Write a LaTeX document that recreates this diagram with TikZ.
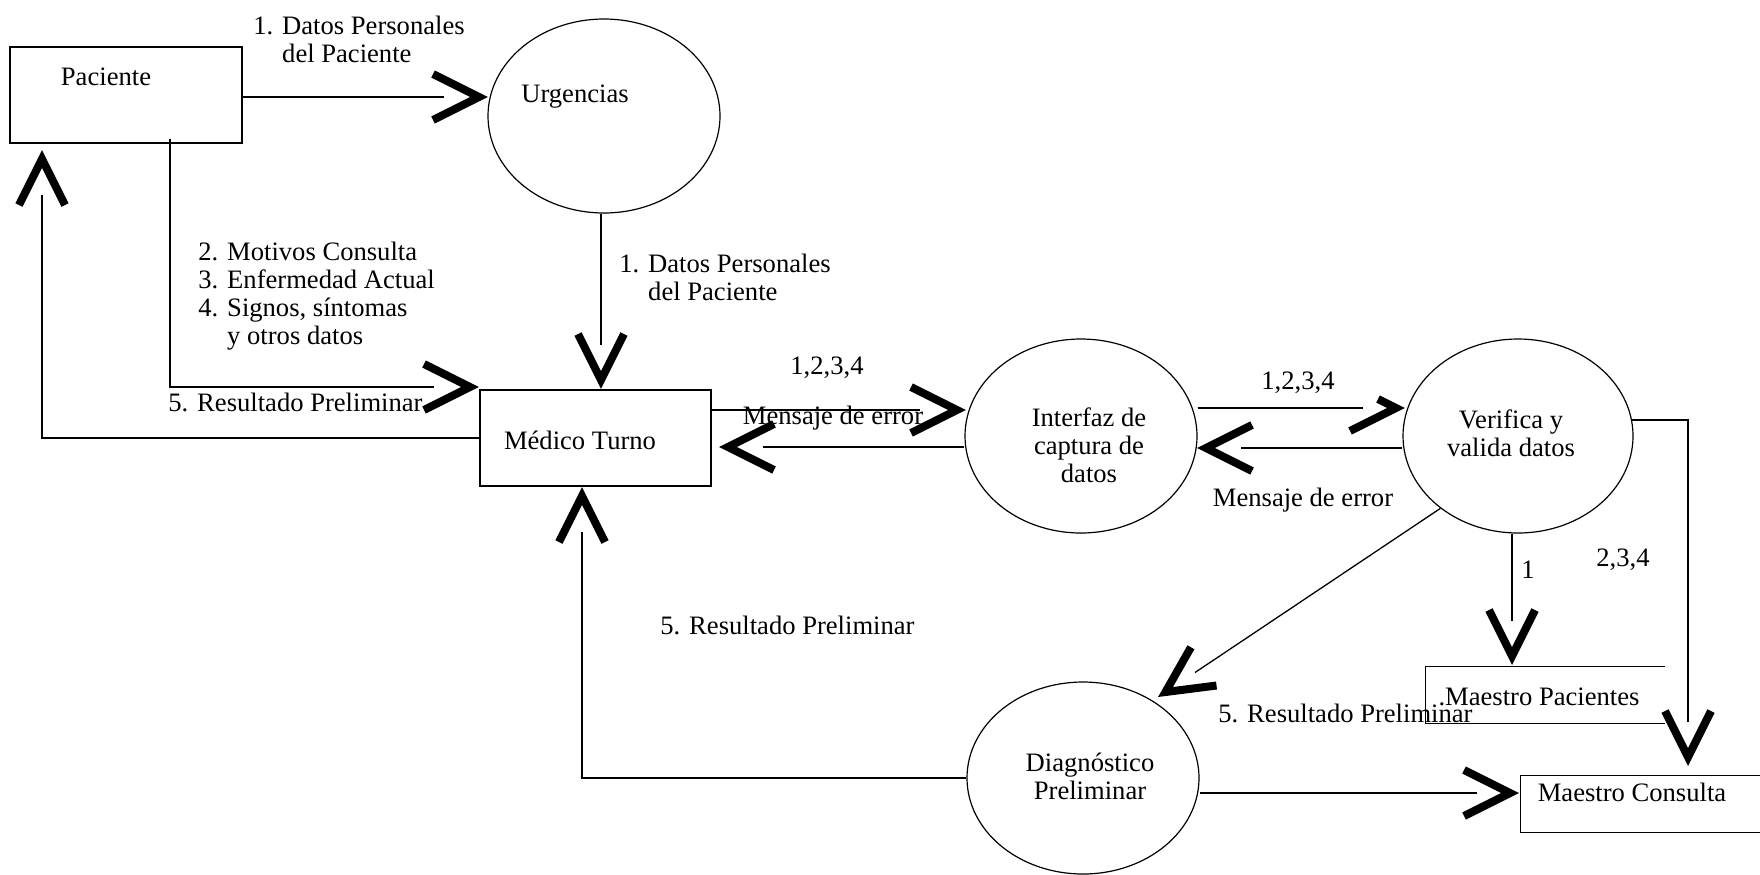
\documentclass[tikz,border=0pt]{standalone}
\usepackage{fontspec}
\setmainfont{Liberation Serif}
\usetikzlibrary{shapes.geometric}
\begin{document}
\begin{tikzpicture}[x=0.5pt,y=-0.5pt,
  every node/.style={font=\fontsize{13.3}{14}\selectfont, inner sep=0pt},
  flow/.style={line width=0.65pt},
  boxnode/.style={draw, line width=0.65pt, rectangle},
  proc/.style={draw, line width=0.6pt, ellipse},
  store/.style={rectangle},
  chevline/.style={line width=4pt, miter limit=10, line cap=butt, line join=miter},
  chev/.pic={\draw[chevline] (-55,-23) -- (-9,0) -- (-55,23);},
  chevcut/.pic={\draw[chevline] (-27,-9) -- (-9,0) -- (-55,23);}
]
\useasboundingbox (0,0) rectangle (1760,874);
% nodes
\node[boxnode, minimum width=116pt, minimum height=48pt] (pac) at (126,95) {};
\node (pacT) at (106,77) {Paciente};
\node[proc, minimum width=116pt, minimum height=97pt] (urg) at (604,116) {};
\node (urgT) at (575,97) {Urgencias};
\node[boxnode, minimum width=115.5pt, minimum height=48pt] (med) at (595.5,438) {};
\node (medT) at (580,440) {Médico Turno};
\node[proc, minimum width=116pt, minimum height=97pt] (int) at (1081,436) {};
\node[align=center] (intT) at (1089,445) {Interfaz de\\captura de\\datos};
\node[proc, minimum width=115pt, minimum height=97pt] (ver) at (1518,436) {};
\node[align=center] (verT) at (1511,433) {Verifica y\\valida datos};
\node[proc, minimum width=116pt, minimum height=96pt] (dia) at (1083,778) {};
\node[align=center] (diaT) at (1090,776) {Diagnóstico\\Preliminar};
\node[store, minimum width=119.5pt, minimum height=28pt] (mp) at (1545.5,695) {};
\node (mpT) at (1539,697) {.Maestro Pacientes};
\node[store, minimum width=119.5pt, minimum height=28pt] (mc) at (1640.5,804) {};
\node (mcT) at (1632,792) {Maestro Consulta};
\draw[flow] (mp.north east) -- (mp.north west) -- (mp.south west) -- (mp.south east);
\draw[flow] (mc.north east) -- (mc.north west) -- (mc.south west) -- (mc.south east);
% arrow tips
\coordinate (t1) at (488,97);
\coordinate (t2) at (601,389);
\coordinate (t3) at (479,387);
\coordinate (t4) at (42,150);
\coordinate (t5) at (966,410);
\coordinate (t6) at (719,447);
\coordinate (t7) at (1405,408);
\coordinate (t8) at (1197,448);
\coordinate (t9) at (1688,766);
\coordinate (t10) at (1512,665);
\coordinate (t11) at (1158,697);
\coordinate (t12) at (582,487);
\coordinate (t13) at (1519,793);
% connectors
\draw[flow] (pac.east |- t1) -- ([shift={(-44,0)}]t1);
\pic at (t1) {chev};
\draw[flow] (urg.south -| t2) -- ([shift={(0,-44)}]t2);
\pic[rotate=-90] at (t2) {chev};
\draw[flow] ([shift={(44,-5)}]pac.south) |- ([shift={(-45,0)}]t3);
\pic at (t3) {chev};
\draw[flow] (med.west) -| ([shift={(0,45)}]t4);
\pic[rotate=90] at (t4) {chev};
\draw[flow] (med.east |- t5) -- ([shift={(-46,0)}]t5);
\pic at (t5) {chev};
\draw[flow] (int.west |- t6) -- ([shift={(44,0)}]t6);
\pic[rotate=180] at (t6) {chev};
\draw[flow] (int.east |- t7) -- ([shift={(-42,0)}]t7);
\pic at (t7) {chevcut};
\draw[flow] (ver.west |- t8) -- ([shift={(44,0)}]t8);
\pic[rotate=180] at (t8) {chev};
\draw[flow] ([shift={(-2,-16)}]ver.east) -| ([shift={(0,-44)}]t9);
\pic[rotate=-90] at (t9) {chev};
\draw[flow] (ver.south -| t10) -- ([shift={(0,-44)}]t10);
\pic[rotate=-90] at (t10) {chev};
\draw[flow] (ver.223) -- ([shift={(37,-24.5)}]t11);
\pic[rotate=213.8] at (t11) {chev};
\draw[flow] (dia.west) -| ([shift={(0,45)}]t12);
\pic[rotate=90] at (t12) {chev};
\draw[flow] (dia.east |- t13) -- ([shift={(-42,0)}]t13);
\pic at (t13) {chev};
% labels
\node[anchor=west, align=left] (l1) at (253,39) {1. Datos Personales\\\hphantom{1. }del Paciente};
\node[anchor=west, align=left] (l2) at (619,277) {1. Datos Personales\\\hphantom{1. }del Paciente};
\node[anchor=west, align=left] (l3) at (198,296) {2. Motivos Consulta\\3. Enfermedad Actual\\4. Signos, síntomas\\\hphantom{4. }y otros datos};
\node[anchor=west] (l4) at (168,402) {5. Resultado Preliminar};
\node (l5) at (827,368) {1,2,3,4};
\node (l6) at (833,418) {Mensaje de error};
\node (l7) at (1298,383) {1,2,3,4};
\node (l8) at (1303,500) {Mensaje de error};
\node[anchor=west] (l9) at (1521,570) {1};
\node (l10) at (1623,560) {2,3,4};
\node[anchor=west] (l11) at (660,625) {5. Resultado Preliminar};
\node[anchor=west] (l12) at (1218,713) {5. Resultado Preliminar};
\end{tikzpicture}
\end{document}
